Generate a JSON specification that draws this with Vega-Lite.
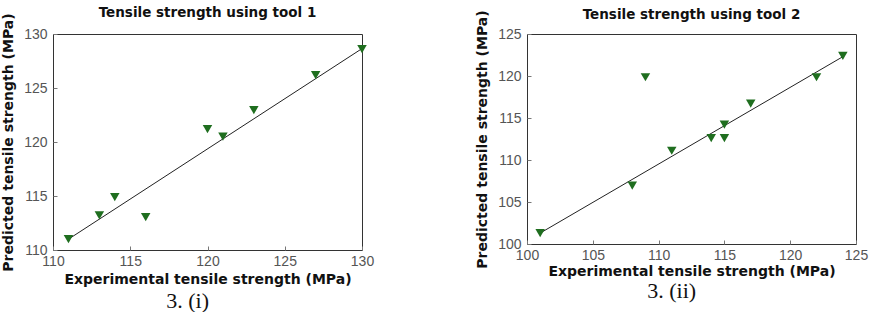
{
  "$schema": "https://vega.github.io/schema/vega-lite/v6.json",
  "padding": {"left": 1, "top": 5, "right": 5, "bottom": 0},
  "background": "white",
  "spacing": 100,
  "datasets": {
    "tool1": [
      {"exp": 111, "pred": 111.0},
      {"exp": 113, "pred": 113.2},
      {"exp": 114, "pred": 114.9},
      {"exp": 116, "pred": 113.05},
      {"exp": 120, "pred": 121.2},
      {"exp": 121, "pred": 120.5},
      {"exp": 123, "pred": 122.95},
      {"exp": 127, "pred": 126.2},
      {"exp": 130, "pred": 128.6}
    ],
    "fit1": [
      {"exp": 111, "pred": 111.0},
      {"exp": 130, "pred": 128.65}
    ],
    "tool2": [
      {"exp": 101, "pred": 101.3},
      {"exp": 108, "pred": 106.95},
      {"exp": 109, "pred": 119.85},
      {"exp": 111, "pred": 111.1},
      {"exp": 114, "pred": 112.6},
      {"exp": 115, "pred": 112.6},
      {"exp": 115, "pred": 114.2},
      {"exp": 117, "pred": 116.7},
      {"exp": 122, "pred": 119.85},
      {"exp": 124, "pred": 122.4}
    ],
    "fit2": [
      {"exp": 101, "pred": 101.3},
      {"exp": 124, "pred": 122.3}
    ]
  },
  "config": {
    "view": {"stroke": "#333", "strokeWidth": 1},
    "axis": {
      "grid": false,
      "domain": false,
      "tickSize": -4,
      "tickColor": "#777",
      "labelFont": "Liberation Sans",
      "labelFontSize": 14,
      "labelColor": "#555",
      "labelPadding": 10,
      "labelFlush": false,
      "labelOverlap": false,
      "titleFont": "DejaVu Sans",
      "titleFontSize": 14,
      "titleFontWeight": "bold",
      "titleColor": "#111"
    },
    "axisX": {"labelPadding": 8},
    "title": {
      "font": "DejaVu Sans",
      "fontSize": 13.5,
      "fontWeight": "bold",
      "color": "#111",
      "anchor": "middle"
    }
  },
  "hconcat": [
    {
      "title": {"text": "3. (i)", "orient": "bottom", "anchor": "middle", "font": "Liberation Serif", "fontSize": 22, "fontWeight": "normal", "color": "#111", "offset": 4},
      "vconcat": [
        {
          "title": {"text": "Tensile strength using tool 1", "offset": -7},
          "width": 309,
          "height": 216,
          "layer": [
            {
              "data": {"name": "fit1"},
              "mark": {"type": "line", "color": "#222", "strokeWidth": 1},
              "encoding": {
                "x": {"field": "exp", "type": "quantitative", "scale": {"domain": [110, 130], "nice": false, "zero": false}},
                "y": {"field": "pred", "type": "quantitative", "scale": {"domain": [110, 130], "nice": false, "zero": false}}
              }
            },
            {
              "data": {"name": "tool1"},
              "mark": {"type": "point", "shape": "triangle-down", "filled": true, "color": "#1f6e1f", "opacity": 1, "size": 90},
              "encoding": {
                "x": {"field": "exp", "type": "quantitative", "scale": {"domain": [110, 130], "nice": false, "zero": false},
                  "axis": {"values": [110, 115, 120, 125, 130], "title": "Experimental tensile strength (MPa)", "titlePadding": 4}},
                "y": {"field": "pred", "type": "quantitative", "scale": {"domain": [110, 130], "nice": false, "zero": false},
                  "axis": {"values": [110, 115, 120, 125, 130], "title": "Predicted tensile strength (MPa)", "titlePadding": 8}}
              }
            }
          ]
        }
      ]
    },
    {
      "title": {"text": "3. (ii)", "orient": "bottom", "anchor": "middle", "font": "Liberation Serif", "fontSize": 22, "fontWeight": "normal", "color": "#111", "offset": 2},
      "vconcat": [
        {
          "title": {"text": "Tensile strength using tool 2", "offset": -12},
          "width": 329,
          "height": 210,
          "layer": [
            {
              "data": {"name": "fit2"},
              "mark": {"type": "line", "color": "#222", "strokeWidth": 1},
              "encoding": {
                "x": {"field": "exp", "type": "quantitative", "scale": {"domain": [100, 125], "nice": false, "zero": false}},
                "y": {"field": "pred", "type": "quantitative", "scale": {"domain": [100, 125], "nice": false, "zero": false}}
              }
            },
            {
              "data": {"name": "tool2"},
              "mark": {"type": "point", "shape": "triangle-down", "filled": true, "color": "#1f6e1f", "opacity": 1, "size": 90},
              "encoding": {
                "x": {"field": "exp", "type": "quantitative", "scale": {"domain": [100, 125], "nice": false, "zero": false},
                  "axis": {"values": [100, 105, 110, 115, 120, 125], "title": "Experimental tensile strength (MPa)", "titlePadding": 2}},
                "y": {"field": "pred", "type": "quantitative", "scale": {"domain": [100, 125], "nice": false, "zero": false},
                  "axis": {"values": [100, 105, 110, 115, 120, 125], "title": "Predicted tensile strength (MPa)", "titlePadding": 8}}
              }
            }
          ]
        }
      ]
    }
  ]
}
